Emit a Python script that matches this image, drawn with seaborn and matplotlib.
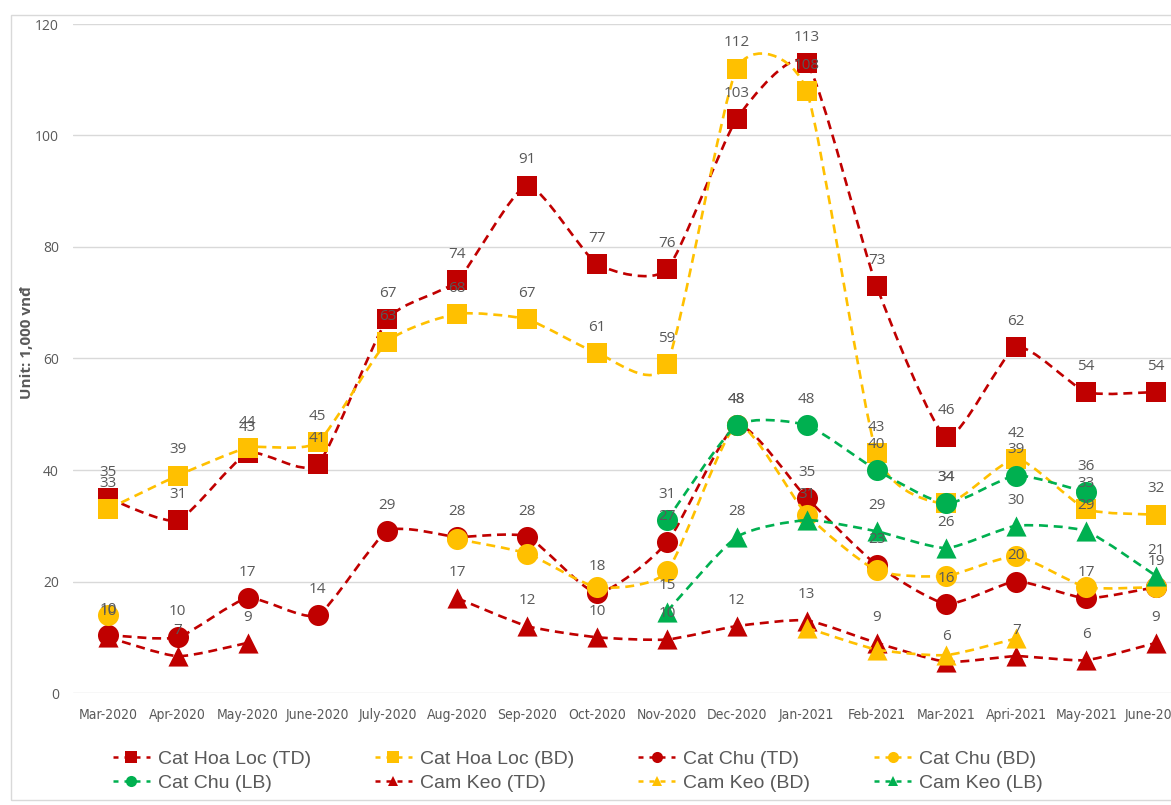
import numpy as np
import pandas as pd
import seaborn as sns
from matplotlib import pyplot as plt
from matplotlib.path import Path
from matplotlib.patches import PathPatch, Rectangle
from matplotlib.lines import Line2D

nan = np.nan

months = ["Mar-2020", "Apr-2020", "May-2020", "June-2020", "July-2020", "Aug-2020",
          "Sep-2020", "Oct-2020", "Nov-2020", "Dec-2020", "Jan-2021", "Feb-2021",
          "Mar-2021", "Apri-2021", "May-2021", "June-2021"]

hoa_loc_td = [35, 31, 43, 41, 67, 74, 91, 77, 76, 103, 113, 73, 46, 62, 54, 54]
hoa_loc_bd = [33, 39, 44, 45, 63, 68, 67, 61, 59, 112, 108, 43, 34, 42, 33, 32]
chu_td = [10.4, 10, 17, 14, 29, 28, 28, 18, 27, 48, 35, 23, 16, 20, 17, 19]
chu_bd = [14, nan, nan, nan, nan, 27.6, 25, 19, 21.8, 48, 32, 22, 21, 24.5, 19, 19]
chu_lb = [nan, nan, nan, nan, nan, nan, nan, nan, 31, 48, 48, 40, 34, 39, 36, nan]
keo_td = [10, 6.6, 9, nan, nan, 17, 12, 10, 9.6, 12, 13, 9, 5.6, 6.6, 5.9, 9]
keo_bd = [nan, nan, nan, nan, nan, nan, nan, nan, nan, nan, 11.7, 7.8, 6.8, 9.8, nan, nan]
keo_lb = [nan, nan, nan, nan, nan, nan, nan, nan, 14.6, 28, 31, 29, 26, 30, 29, 21]

series = ["Cat Hoa Loc (TD)", "Cat Hoa Loc (BD)", "Cat Chu (TD)", "Cat Chu (BD)",
          "Cat Chu (LB)", "Cam Keo (TD)", "Cam Keo (BD)", "Cam Keo (LB)"]
values = [hoa_loc_td, hoa_loc_bd, chu_td, chu_bd, chu_lb, keo_td, keo_bd, keo_lb]
labelled = ["Cat Hoa Loc (TD)", "Cat Hoa Loc (BD)", "Cat Chu (TD)",
            "Cat Chu (LB)", "Cam Keo (TD)", "Cam Keo (LB)"]

RED, YELLOW, GREEN = "#C00000", "#FFC000", "#00B050"
colors = [RED, YELLOW, RED, YELLOW, GREEN, RED, YELLOW, GREEN]
markers = ["s", "s", "o", "o", "o", "^", "^", "^"]
msize = {"s": 190, "o": 230, "^": 210}
GREY = "#595959"
DASH = (0, (3.4, 2.2))


def smooth_path(xs, ys, f=0.1):
    # excel-like smoothed line: catmull-rom style cubic bezier pieces
    pts = np.column_stack([xs, ys])
    verts = [pts[0]]
    codes = [Path.MOVETO]
    n = len(pts)
    for i in range(n - 1):
        p0 = pts[max(i - 1, 0)]
        p1 = pts[i]
        p2 = pts[i + 1]
        p3 = pts[min(i + 2, n - 1)]
        verts += [p1 + (p2 - p0) * f, p2 - (p3 - p1) * f, p2]
        codes += [Path.CURVE4] * 3
    return Path(verts, codes)


rows = []
for name, vals in zip(series, values):
    for i, v in enumerate(vals):
        rows.append({"series": name, "x": i, "value": v})
df = pd.DataFrame(rows)

sns.set_style("white")
fig = plt.figure(figsize=(11.71, 8.05), dpi=100)
ax = fig.add_axes([73 / 1171, 112 / 805, (1191 - 73) / 1171, 669 / 805])


def draw_run(run, col, z):
    if len(run) > 1:
        xs, ys = zip(*run)
        ax.add_patch(PathPatch(smooth_path(xs, ys), fill=False, edgecolor=col,
                               lw=1.9, linestyle=DASH, zorder=z))


for k, (name, col, mk) in enumerate(zip(series, colors, markers)):
    d = df[df["series"] == name]
    run = []
    for _, r in d.iterrows():
        if np.isnan(r["value"]):
            draw_run(run, col, 3 + k * 0.1)
            run = []
        else:
            run.append((r["x"], r["value"]))
    draw_run(run, col, 3 + k * 0.1)
    sns.scatterplot(data=d.dropna(), x="x", y="value", ax=ax, color=col, marker=mk,
                    s=msize[mk], linewidth=0, zorder=3.05 + k * 0.1, legend=False)

for name in labelled:
    d = df[(df["series"] == name)].dropna()
    for _, r in d.iterrows():
        ax.annotate(f"{r['value']:.0f}", (r["x"], r["value"]), xytext=(0, 18.5),
                    textcoords="offset points", ha="center", va="center",
                    fontsize=11, color=GREY, family="Open Sans", zorder=10)

ax.set_xlim(-0.5, len(months) - 0.5)
ax.set_ylim(0, 120)
ax.set_yticks(range(0, 121, 20))
ax.set_xticks(range(len(months)))
ax.set_xticklabels(months, family="DejaVu Sans", fontstretch="condensed",
                   fontsize=10, color=GREY)
ax.tick_params(axis="x", length=0, pad=11)
ax.tick_params(axis="y", length=0, pad=10, labelsize=10, labelcolor=GREY)
for t in ax.get_yticklabels():
    t.set_family("Open Sans")
ax.set_xlabel("")
ax.set_ylabel("")
ax.grid(axis="y", color="#D9D9D9", lw=1)
ax.grid(axis="x", visible=False)
ax.set_axisbelow(True)
for s in ax.spines.values():
    s.set_visible(False)

fig.text(27 / 1171, 1 - 343 / 805, "Unit: 1,000 vnđ", rotation=90, ha="center", va="center",
         fontsize=11, fontweight="bold", color=GREY, family="Open Sans")

fig.patches.append(Rectangle((11 / 1171, 5 / 805), 1.2, 785 / 805, transform=fig.transFigure,
                             fill=False, edgecolor="#D9D9D9", lw=1, zorder=0))

handles = [Line2D([], [], color=c, marker=m, markersize=8 if m != "^" else 7,
                  lw=1.8, linestyle=(0, (2.0, 2.4)), markeredgewidth=0)
           for c, m in zip(colors, markers)]
order = [0, 4, 1, 5, 2, 6, 3, 7]
leg = fig.legend([handles[i] for i in order], [series[i] for i in order],
                 loc="center left", bbox_to_anchor=(113 / 1171, 1 - 771 / 805), ncol=4,
                 frameon=False, handlelength=1.9, columnspacing=3.3,
                 handletextpad=0.4, labelspacing=0.3, borderpad=0, borderaxespad=0,
                 prop={"family": "Liberation Sans", "size": 14})
for t in leg.get_texts():
    t.set_color(GREY)

plt.savefig("out.png", dpi=100)
